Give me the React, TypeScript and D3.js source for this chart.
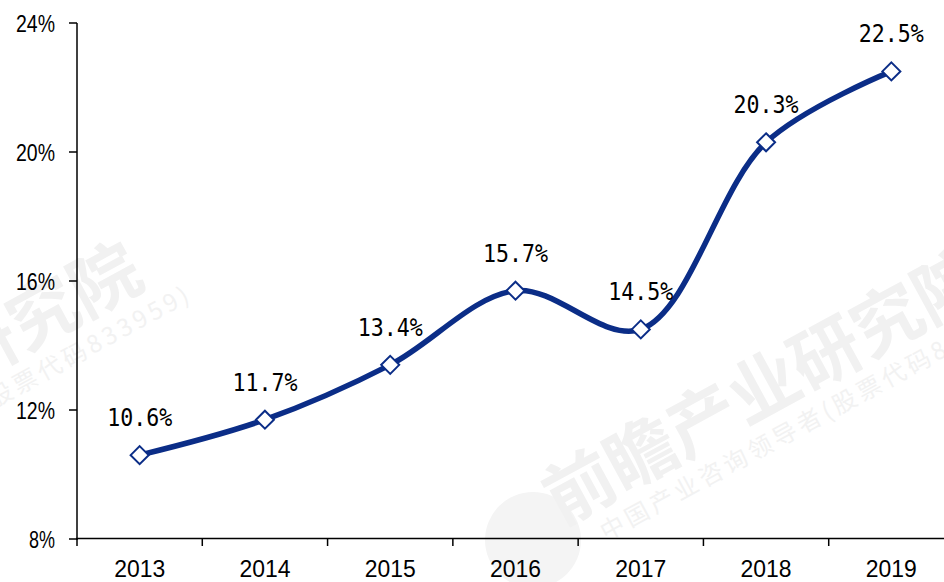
import React from "react";
import * as d3 from "d3";

const years = ["2013", "2014", "2015", "2016", "2017", "2018", "2019"];
const rates = [10.6, 11.7, 13.4, 15.7, 14.5, 20.3, 22.5];
const yTicks = [8, 12, 16, 20, 24];
const wmTitle = "前瞻产业研究院";
const wmSub = "中国产业咨询领导者(股票代码833959)";

export default function App() {
  const W = 944, H = 582;
  const x = d3.scaleBand<string>().domain(years).range([77, 954]).padding(0);
  const y = d3.scaleLinear().domain([8, 24]).range([539, 23]);
  const cx = (d: string) => (x(d) as number) + x.bandwidth() / 2;
  const pts: [number, number][] = years.map((d, i) => [cx(d), y(rates[i])]);
  const line = d3.line().curve(d3.curveCatmullRom.alpha(0.5))(pts) as string;
  const blue = "#0b2d87";
  const bounds = years.map((d) => x(d) as number);
  const diamond = (px: number, py: number) => {
    const r = 9;
    return `M${px},${py - r}L${px + r},${py}L${px},${py + r}L${px - r},${py}Z`;
  };
  const wm = (ox: number, oy: number, k: string) => (
    <g key={k} transform={`translate(${ox},${oy})`}>
      <circle cx={533} cy={540} r={48} fill="#f4f4f4" />
      <text transform="translate(561,526) rotate(-28.5)" fontSize={70} fontWeight="bold" fill="#f1f1f1" fontFamily="'Noto Sans CJK SC'">
        {wmTitle}
      </text>
      <text transform="translate(606,541) rotate(-28.5)" fontSize={24} letterSpacing={4} fill="#f2f2f2" fontFamily="'Noto Sans CJK SC'">
        {wmSub}
      </text>
    </g>
  );
  return (
    <svg width={W} height={H} style={{ position: "absolute", left: 0, top: 0, background: "#fff" }}>
      {wm(0, 0, "a")}
      {wm(-844, -7, "b")}
      <line x1={77} x2={77} y1={23} y2={540} stroke="#000" strokeWidth={1.5} />
      <line x1={76} x2={944} y1={538.5} y2={538.5} stroke="#000" strokeWidth={1.5} />
      {yTicks.map((t) => (
        <g key={t}>
          <line x1={69} x2={77} y1={y(t)} y2={y(t)} stroke="#000" strokeWidth={1.5} />
          <text x={55} y={y(t) + 8.5} textAnchor="end" fontFamily="'Liberation Sans', Arial" fontSize={24}
            textLength={t < 10 ? 26 : 39} lengthAdjust="spacingAndGlyphs" fill="#000">
            {t}%
          </text>
        </g>
      ))}
      {bounds.map((b, i) => (
        <line key={i} x1={b} x2={b} y1={538.5} y2={546} stroke="#000" strokeWidth={1.5} />
      ))}
      {years.map((d) => (
        <text key={d} x={cx(d)} y={577} textAnchor="middle" fontFamily="'Liberation Sans', Arial" fontSize={24}
          textLength={51} lengthAdjust="spacingAndGlyphs" fill="#000">
          {d}
        </text>
      ))}
      <path d={line} fill="none" stroke={blue} strokeWidth={5.5} strokeLinejoin="round" />
      {pts.map(([px, py], i) => (
        <g key={i}>
          <path d={diamond(px, py)} fill="#fff" stroke={blue} strokeWidth={2} />
          <text x={px} y={py - 29} textAnchor="middle" fontFamily="'DejaVu Sans Mono', monospace" fontSize={24}
            textLength={65} lengthAdjust="spacingAndGlyphs" fill="#000">
            {rates[i].toFixed(1)}%
          </text>
        </g>
      ))}
    </svg>
  );
}
